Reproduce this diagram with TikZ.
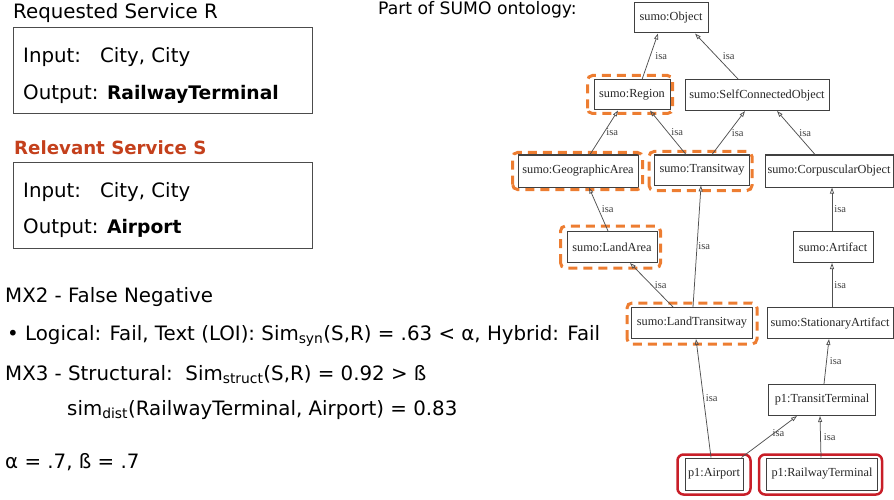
\documentclass[tikz,border=0pt]{standalone}
\usepackage{fontspec}
\setmainfont{DejaVu Sans}
\newfontfamily\nodefont{Liberation Serif}
\usetikzlibrary{arrows.meta}
\definecolor{hlorange}{RGB}{237,125,49}
\definecolor{hlred}{RGB}{200,30,40}
\definecolor{relred}{RGB}{196,64,28}
\definecolor{edgegray}{RGB}{80,80,80}
\newcommand{\bfout}[1]{{\bfseries\fontsize{18.7}{22}\selectfont #1}}
\begin{document}
\begin{tikzpicture}[x=1pt,y=-1pt,
  onto/.style={draw=black!75, line width=1pt, fill=white, inner sep=0pt,
    font=\nodefont\fontsize{12.3}{13}\selectfont, text=black!85},
  isa/.style={draw=edgegray, line width=0.75pt, -{Triangle[open,length=6pt,width=4pt]}},
  lbl/.style={font=\nodefont\fontsize{10.5}{11}\selectfont, text=black!75, inner sep=0pt, anchor=west},
  hl/.style={draw=hlorange, line width=3pt, dash pattern=on 9pt off 6pt, rounded corners=5pt},
  sel/.style={draw=hlred, line width=2.5pt, rounded corners=6pt},
  txt/.style={anchor=base west, inner sep=0pt, font=\fontsize{19.8}{22}\selectfont},
  svcbox/.style={draw=black!70, line width=1.1pt, inner sep=0pt, anchor=north west}
]
\useasboundingbox (0,0) rectangle (894,500);

% left side
\node[txt] (reqT) at (13,19) {Requested Service R};
\node[svcbox, minimum width=299pt, minimum height=86pt] (boxR) at (13,27) {};
\node[txt] (inR) at (23,63) {Input:\ \ \ City, City};
\node[txt] (outR) at (23,100) {Output: \bfout{RailwayTerminal}};
\node[txt, text=relred, font=\bfseries\fontsize{18.2}{22}\selectfont] (relT) at (14,154) {Relevant Service S};
\node[svcbox, minimum width=299pt, minimum height=86pt] (boxS) at (13,162) {};
\node[txt] (inS) at (23,197) {Input:\ \ \ City, City};
\node[txt] (outS) at (23,233) {Output: \bfout{Airport}};
\node[txt] (mx2) at (5,302) {MX2 - False Negative};
\node[txt] (logi) at (7,340) {\textbullet\ Logical: Fail, Text (LOI): Sim\textsubscript{syn}(S,R) = .63 < α, Hybrid: Fail};
\node[txt] (mx3) at (5,380) {MX3 - Structural:\ \ Sim\textsubscript{struct}(S,R) = 0.92 > ß};
\node[txt] (dist) at (67,415) {sim\textsubscript{dist}(RailwayTerminal, Airport) = 0.83};
\node[txt] (ab) at (5,468) {α = .7, ß = .7};
\node[txt, font=\fontsize{17.2}{20}\selectfont] (part) at (378,15) {Part of SUMO ontology:};

% ontology nodes
\node[onto, minimum width=74pt, minimum height=30pt] (obj) at (671,18) {sumo:Object};
\node[onto, minimum width=76pt, minimum height=30pt] (reg) at (632,95) {sumo:Region};
\node[onto, minimum width=144pt, minimum height=31pt] (sco) at (757,95) {sumo:SelfConnectedObject};
\node[onto, minimum width=120pt, minimum height=32pt] (geo) at (578,171) {sumo:GeographicArea};
\node[onto, minimum width=95pt, minimum height=30pt] (tra) at (702,170) {sumo:Transitway};
\node[onto, minimum width=128pt, minimum height=32pt] (cor) at (829,171) {sumo:CorpuscularObject};
\node[onto, minimum width=90pt, minimum height=31pt] (lar) at (612,247) {sumo:LandArea};
\node[onto, minimum width=80pt, minimum height=31pt] (art) at (833,247) {sumo:Artifact};
\node[onto, minimum width=121pt, minimum height=31pt] (ltw) at (692,323) {sumo:LandTransitway};
\node[onto, minimum width=126pt, minimum height=31pt] (sta) at (830,323) {sumo:StationaryArtifact};
\node[onto, minimum width=107pt, minimum height=31pt] (ttm) at (822,400) {p1:TransitTerminal};
\node[onto, minimum width=58pt, minimum height=32pt] (air) at (714,474) {p1:Airport};
\node[onto, minimum width=111pt, minimum height=32pt] (rwt) at (822,474) {p1:RailwayTerminal};

% highlights
\draw[hl] ([shift={(-6,3)}]reg.south west) rectangle ([shift={(2,-4)}]reg.north east);
\draw[hl] ([shift={(-5,2)}]geo.south west) rectangle ([shift={(4,-2)}]geo.north east);
\draw[hl] ([shift={(-5,5)}]tra.south west) rectangle ([shift={(2,-3)}]tra.north east);
\draw[hl] ([shift={(-6,5)}]lar.south west) rectangle ([shift={(3,-5)}]lar.north east);
\draw[hl] ([shift={(-4,5)}]ltw.south west) rectangle ([shift={(4,-4)}]ltw.north east);
\draw[sel] ([shift={(-7,4)}]air.south west) rectangle ([shift={(7,-3)}]air.north east);
\draw[sel] ([shift={(-7,4)}]rwt.south west) rectangle ([shift={(4,-3)}]rwt.north east);

% isa edges
\draw[isa] ([xshift=10pt]reg.north) -- ([xshift=-13pt]obj.south) node[lbl, midway, xshift=5pt] {isa};
\draw[isa] ([xshift=-19pt]sco.north) -- ([xshift=24pt]obj.south) node[lbl, midway, xshift=6pt] {isa};
\draw[isa] ([xshift=12pt]geo.north) -- ([xshift=-14pt]reg.south) node[lbl, midway, xshift=2pt] {isa};
\draw[isa] ([xshift=-16pt]tra.north) -- ([xshift=18pt]reg.south) node[lbl, midway, xshift=3pt] {isa};
\draw[isa] ([xshift=10pt]tra.north) -- ([xshift=-12pt]sco.south) node[lbl, midway, xshift=3pt] {isa};
\draw[isa] ([xshift=-14pt]cor.north) -- ([xshift=20pt]sco.south) node[lbl, midway, xshift=3pt] {isa};
\draw[isa] ([xshift=-4pt]lar.north) -- ([xshift=11pt]geo.south) node[lbl, midway, xshift=3pt] {isa};
\draw[isa] ([xshift=-1pt]art.north) -- ([xshift=3pt]cor.south) node[lbl, midway, xshift=2pt] {isa};
\draw[isa] ([xshift=-19pt]ltw.north) -- ([xshift=18pt]lar.south) node[lbl, midway, xshift=3pt] {isa};
\draw[isa] ([xshift=1pt]ltw.north) -- ([xshift=-1pt]tra.south) node[lbl, midway, xshift=1pt] {isa};
\draw[isa] ([xshift=2pt]sta.north) -- ([xshift=-1pt]art.south) node[lbl, midway, xshift=2pt] {isa};
\draw[isa] ([xshift=2pt]ttm.north) -- ([xshift=-1pt]sta.south) node[lbl, midway, xshift=3pt] {isa};
\draw[isa] ([xshift=-3pt]air.north) -- ([xshift=4pt]ltw.south) node[lbl, midway, xshift=2pt] {isa};
\draw[isa] ([xshift=-2pt]air.north east) -- ([xshift=-25pt]ttm.south) node[lbl, midway, xshift=3pt, yshift=4pt] {isa};
\draw[isa] ([xshift=-1pt]rwt.north) -- ([xshift=-2pt]ttm.south) node[lbl, midway, xshift=3pt] {isa};
\end{tikzpicture}
\end{document}
